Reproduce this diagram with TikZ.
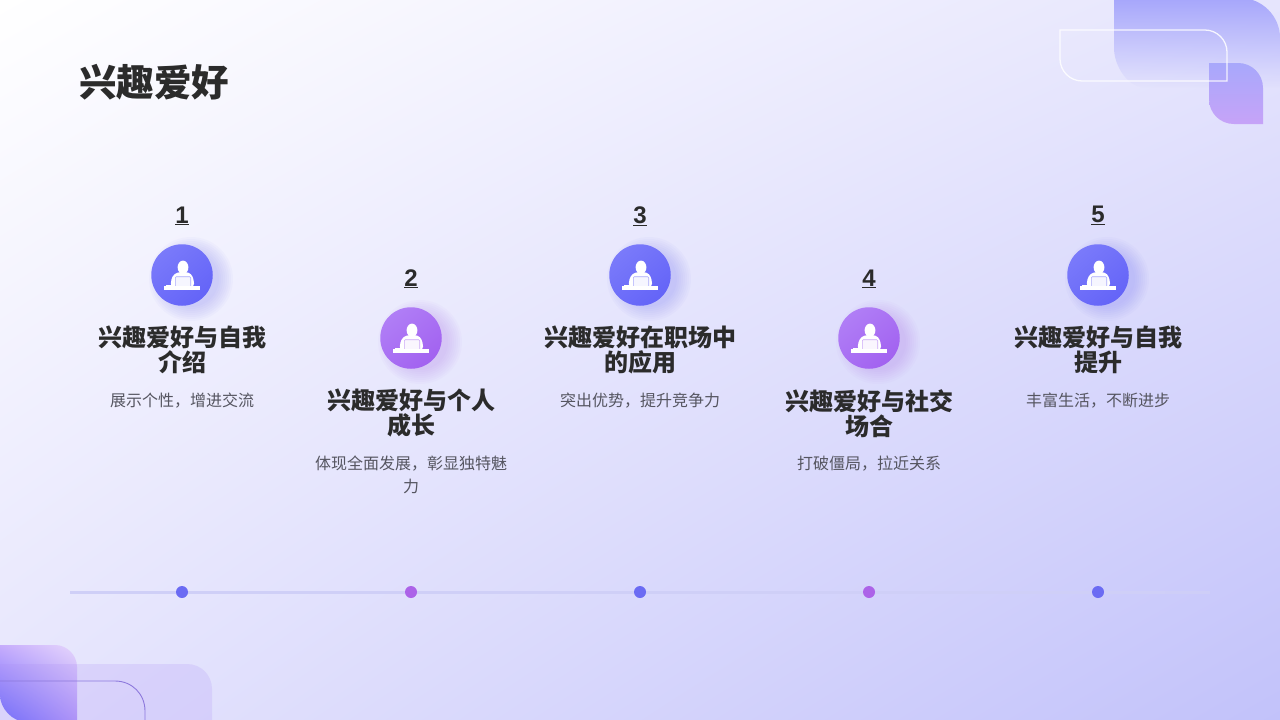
\documentclass[tikz,border=0pt]{standalone}
\usepackage{fontspec}
\setmainfont{Liberation Sans}
\newfontfamily\cjkfont{Noto Sans CJK SC}
\usetikzlibrary{fadings,shadings}
\definecolor{ink}{HTML}{2B2B2B}
\definecolor{subink}{HTML}{555560}
\definecolor{bluea}{HTML}{7A7AFA}
\definecolor{blueb}{HTML}{6464F8}
\definecolor{purplea}{HTML}{B07EF6}
\definecolor{purpleb}{HTML}{A262F0}
\definecolor{dotblue}{HTML}{6B6BF3}
\definecolor{dotpurple}{HTML}{AC63E8}
\definecolor{bgmid}{HTML}{E6E5FD}
\definecolor{bgend}{HTML}{C2C2FA}
\definecolor{tra}{HTML}{A6A6FB}
\definecolor{sma}{HTML}{A8A8FB}
\definecolor{smb}{HTML}{C6A3F8}
\definecolor{bla}{HTML}{C6ACFC}
\definecolor{blb}{HTML}{E6D6FC}
\definecolor{blc}{HTML}{6969FB}
\definecolor{bld}{HTML}{B096F8}
\definecolor{ble}{HTML}{AA8CF5}
\definecolor{blline}{HTML}{8C78DC}
\definecolor{tline}{HTML}{CFCFF7}
\definecolor{tlineb}{HTML}{CACAFA}
\pgfdeclarehorizontalshading{timelineshade}{100bp}{color(0bp)=(bgmid); color(5bp)=(tline); color(70bp)=(tline); color(100bp)=(tlineb)}
\tikzfading[name=softdown,top color=transparent!0,bottom color=transparent!100]
\tikzset{
  x=1pt,y=-1pt,
  numlabel/.style={font=\fontsize{24}{24}\selectfont\bfseries,text=ink,inner sep=0pt,anchor=center},
  headlabel/.style={font=\cjkfont\fontsize{24}{25}\selectfont\bfseries,text=ink,align=center,inner sep=0pt,anchor=north},
  sublabel/.style={font=\cjkfont\fontsize{16}{23}\selectfont,text=subink,align=center,inner sep=0pt,anchor=north},
  disc/.style={circle,minimum size=61.5pt,inner sep=0pt},
  dot/.style={circle,minimum size=12pt,inner sep=0pt,fill=#1},
  deskicon/.pic={
    \fill[white] (1,-7.7) ellipse[x radius=5.4,y radius=6.7];
    \fill[white,rounded corners=3pt] (-11.7,11.3) -- (-10,1.5) -- (-5,-2.8) -- (7,-2.8) -- (11,1.5) -- (12.5,11.3) -- cycle;
    \draw[iconline,fill=white!90!iconline,line width=.6pt,rounded corners=1pt] (-6.7,10.9) -- (-6.7,1.7) -- (8.7,1.7) -- (8.7,10.9);
    \fill[white] (-18.3,11.3) rectangle (17.9,14.7);
    \fill[white] (-16,9.5) rectangle (-9.5,11.3);
  }
}
\newcommand{\stepcard}[8]{%
  \foreach \r in {42,40,...,28}{\fill[#8,opacity=.03] (#2+9,275+#3+4) circle[radius=\r];}
  \node[numlabel] (num#1) at (#2,215.8+#3) {\underline{#4}};
  \node[disc,shade,shading=axis,top color=#7,bottom color=#8,shading angle=40] (disc#1) at (#2,275+#3) {};
  \colorlet{iconline}{#8!55!white}
  \pic at (disc#1.center) {deskicon};
  \node[headlabel] (head#1) at (#2,326+#3) {#5};
  \node[sublabel] (sub#1) at (#2,393+#3) {#6};
}
\begin{document}
\begin{tikzpicture}
\useasboundingbox (0,0) rectangle (1280,720);
\path[clip] (0,0) rectangle (1280,720);
% background
\shade[upper left=white,upper right=bgmid,lower left=bgmid,lower right=bgend] (0,0) rectangle (1280,720);
% top-right decoration
\fill[fill=tra,path fading=softdown,fit fading=true]
  (1114,-2) -- (1240,-2) .. controls (1262,-2) and (1280,16) .. (1280,38) -- (1280,88) -- (1146,88) .. controls (1128,88) and (1114,66) .. (1114,48) -- cycle;
\shade[top color=sma,bottom color=smb]
  (1209,63) -- (1238,63) .. controls (1252,63) and (1263,74) .. (1263,88) -- (1263,124) -- (1234,124) .. controls (1220,124) and (1209,113) .. (1209,99) -- cycle;
\draw[white,opacity=.85,line width=1.3pt]
  (1060,30) -- (1205,30) .. controls (1217,30) and (1227,40) .. (1227,52) -- (1227,81) -- (1082,81) .. controls (1070,81) and (1060,71) .. (1060,59) -- cycle;
% bottom-left decoration
\begin{scope}
\clip (-2,645) -- (55,645) .. controls (67,645) and (77,655) .. (77,667) -- (77,722) -- (27,722) .. controls (12,722) and (0,708) .. (0,695) -- (-2,695) -- cycle;
\shade[upper left=bla,upper right=blb,lower left=blc,lower right=bld] (0,645) rectangle (77,720);
\end{scope}
\fill[fill=ble,opacity=.2]
  (-2,664) -- (187,664) .. controls (201,664) and (212,675) .. (212,689) -- (212,722) -- (-2,722) -- cycle;
\draw[color=blline,line width=.9pt]
  (-2,681) -- (115,681) .. controls (132,681) and (145,694) .. (145,711) -- (145,722);
% timeline
\shade[shading=timelineshade] (70,591) rectangle (1210,593);
\node[dot=dotblue] (dot1) at (182,592) {};
\node[dot=dotpurple] (dot2) at (411,592) {};
\node[dot=dotblue] (dot3) at (640,592) {};
\node[dot=dotpurple] (dot4) at (869,592) {};
\node[dot=dotblue] (dot5) at (1098,592) {};
% title
\node[font=\cjkfont\fontsize{37.5}{40}\selectfont\bfseries,text=ink,anchor=west,inner sep=0pt] (title) at (79,82) {兴趣爱好};
% cards
\stepcard{1}{182}{0}{1}{兴趣爱好与自我\\介绍}{展示个性，增进交流}{bluea}{blueb}
\stepcard{2}{411}{63}{2}{兴趣爱好与个人\\成长}{体现全面发展，彰显独特魅\\力}{purplea}{purpleb}
\stepcard{3}{640}{0}{3}{兴趣爱好在职场中\\的应用}{突出优势，提升竞争力}{bluea}{blueb}
\stepcard{4}{869}{63}{4}{兴趣爱好与社交\\场合}{打破僵局，拉近关系}{purplea}{purpleb}
\stepcard{5}{1098}{0}{5}{兴趣爱好与自我\\提升}{丰富生活，不断进步}{bluea}{blueb}
\end{tikzpicture}
\end{document}
